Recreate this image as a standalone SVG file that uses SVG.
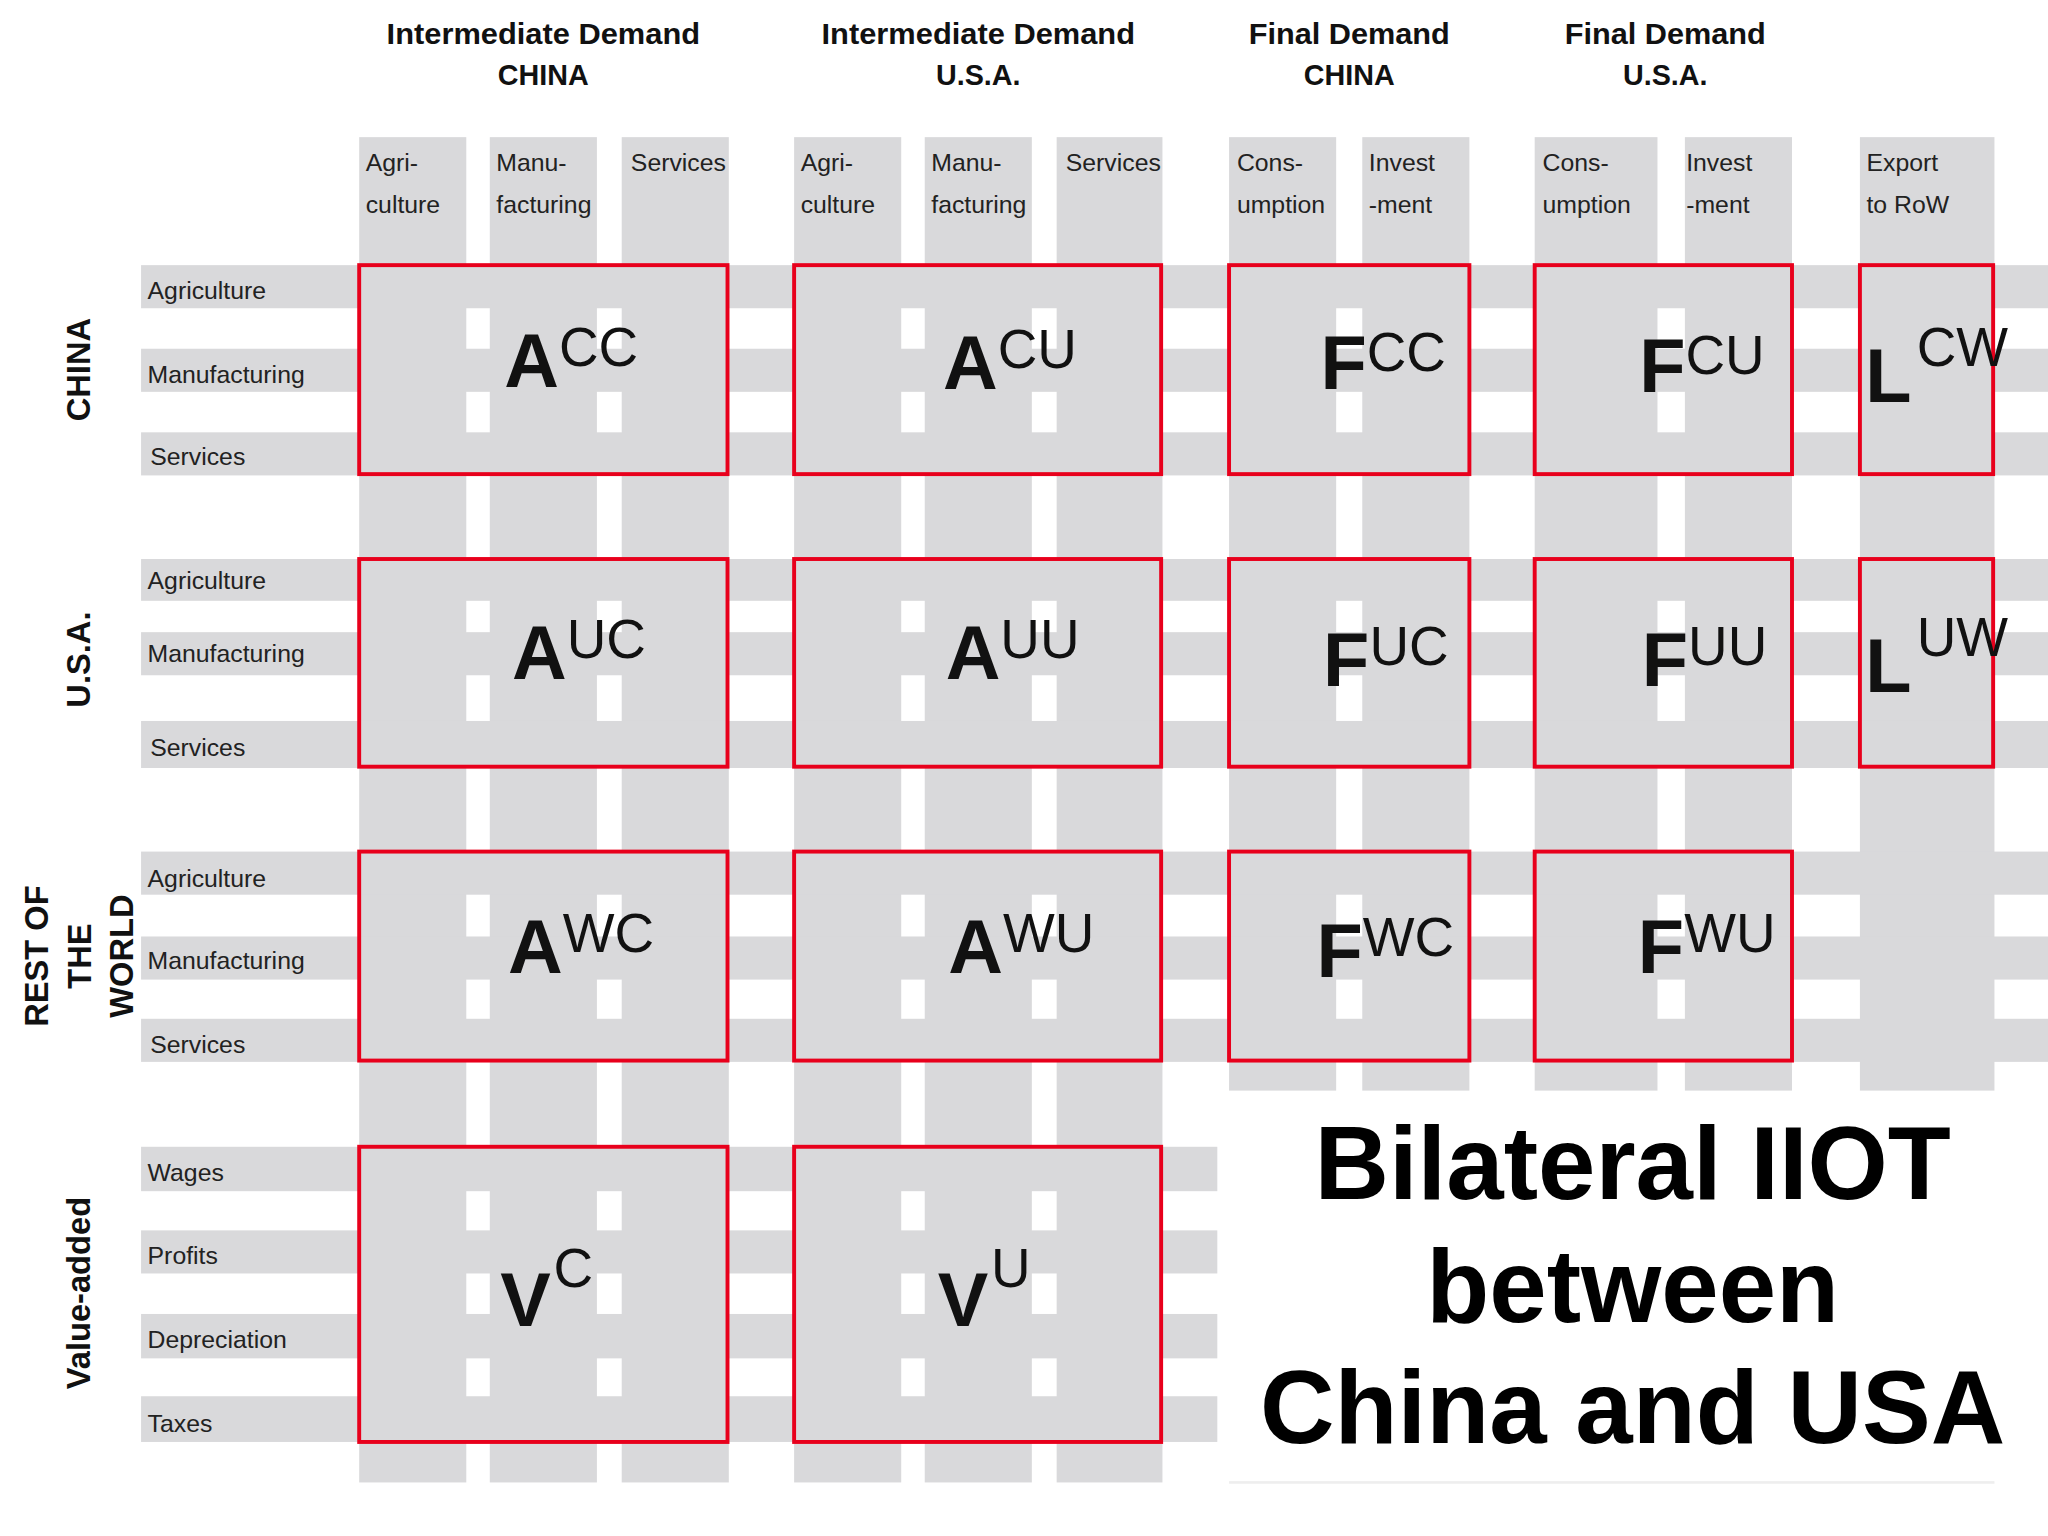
<svg xmlns="http://www.w3.org/2000/svg" width="2048" height="1536" viewBox="0 0 2048 1536">
<style>
.g{fill:#d9d9db}
.box{fill:none;stroke:#e8001c;stroke-width:3}
.hd{font-family:"Liberation Sans",Arial,sans-serif;font-weight:bold;font-size:22px;text-anchor:middle;fill:#111}
.cl{font-family:"Liberation Sans",Arial,sans-serif;font-size:19px;fill:#222}
.vl{font-family:"Liberation Sans",Arial,sans-serif;font-weight:bold;font-size:25px;text-anchor:middle;fill:#111}
.big{font-family:"Liberation Sans",Arial,sans-serif;font-weight:bold;font-size:58px;fill:#111}
.sup{font-weight:normal;font-size:42px}
.ttl{font-family:"Liberation Sans",Arial,sans-serif;font-weight:bold;font-size:79px;text-anchor:middle;fill:#000}
</style>
<rect width="2048" height="1536" fill="#fff"/>
<g transform="scale(1.30612)">
<g id="strips">
<rect class="g" x="275" y="105" width="82" height="1030"/>
<rect class="g" x="375" y="105" width="82" height="1030"/>
<rect class="g" x="476" y="105" width="82" height="1030"/>
<rect class="g" x="608" y="105" width="82" height="1030"/>
<rect class="g" x="708" y="105" width="82" height="1030"/>
<rect class="g" x="809" y="105" width="81" height="1030"/>
<rect class="g" x="941" y="105" width="82" height="730"/>
<rect class="g" x="1043" y="105" width="82" height="730"/>
<rect class="g" x="1175" y="105" width="94" height="730"/>
<rect class="g" x="1290" y="105" width="82" height="730"/>
<rect class="g" x="1424" y="105" width="103" height="730"/>
<rect class="g" x="108" y="203" width="1460" height="33"/>
<rect class="g" x="108" y="267" width="1460" height="33"/>
<rect class="g" x="108" y="331" width="1460" height="33"/>
<rect class="g" x="108" y="428" width="1460" height="32"/>
<rect class="g" x="108" y="484" width="1460" height="33"/>
<rect class="g" x="108" y="552" width="1460" height="36"/>
<rect class="g" x="108" y="652" width="1460" height="33"/>
<rect class="g" x="108" y="717" width="1460" height="33"/>
<rect class="g" x="108" y="780" width="1460" height="33"/>
<rect class="g" x="108" y="878" width="824" height="34"/>
<rect class="g" x="108" y="942" width="824" height="33"/>
<rect class="g" x="108" y="1006" width="824" height="34"/>
<rect class="g" x="108" y="1069" width="824" height="35"/>
<rect x="941" y="1134" width="586" height="2" fill="#eeeeee"/>
</g>
<g id="headers">
<text class="hd" x="416" y="34" textLength="240" lengthAdjust="spacingAndGlyphs">Intermediate Demand</text>
<text class="hd" x="416" y="65">CHINA</text>
<text class="hd" x="749" y="34" textLength="240" lengthAdjust="spacingAndGlyphs">Intermediate Demand</text>
<text class="hd" x="749" y="65">U.S.A.</text>
<text class="hd" x="1033" y="34" textLength="154" lengthAdjust="spacingAndGlyphs">Final Demand</text>
<text class="hd" x="1033" y="65">CHINA</text>
<text class="hd" x="1275" y="34" textLength="154" lengthAdjust="spacingAndGlyphs">Final Demand</text>
<text class="hd" x="1275" y="65">U.S.A.</text>
</g>
<g id="col-labels">
<text class="cl" x="280" y="131">Agri-</text><text class="cl" x="280" y="163">culture</text>
<text class="cl" x="380" y="131">Manu-</text><text class="cl" x="380" y="163">facturing</text>
<text class="cl" x="483" y="131">Services</text>
<text class="cl" x="613" y="131">Agri-</text><text class="cl" x="613" y="163">culture</text>
<text class="cl" x="713" y="131">Manu-</text><text class="cl" x="713" y="163">facturing</text>
<text class="cl" x="816" y="131">Services</text>
<text class="cl" x="947" y="131">Cons-</text><text class="cl" x="947" y="163">umption</text>
<text class="cl" x="1048" y="131">Invest</text><text class="cl" x="1048" y="163">-ment</text>
<text class="cl" x="1181" y="131">Cons-</text><text class="cl" x="1181" y="163">umption</text>
<text class="cl" x="1291" y="131">Invest</text><text class="cl" x="1291" y="163">-ment</text>
<text class="cl" x="1429" y="131">Export</text><text class="cl" x="1429" y="163">to RoW</text>
</g>
<g id="row-labels">
<text class="cl" x="113" y="229">Agriculture</text>
<text class="cl" x="113" y="293">Manufacturing</text>
<text class="cl" x="115" y="356">Services</text>
<text class="cl" x="113" y="451">Agriculture</text>
<text class="cl" x="113" y="507">Manufacturing</text>
<text class="cl" x="115" y="579">Services</text>
<text class="cl" x="113" y="679">Agriculture</text>
<text class="cl" x="113" y="742">Manufacturing</text>
<text class="cl" x="115" y="806">Services</text>
<text class="cl" x="113" y="904">Wages</text>
<text class="cl" x="113" y="968">Profits</text>
<text class="cl" x="113" y="1032">Depreciation</text>
<text class="cl" x="113" y="1096">Taxes</text>
</g>
<g id="side-labels">
<text class="vl" transform="translate(69,283) rotate(-90)">CHINA</text>
<text class="vl" transform="translate(69,505) rotate(-90)">U.S.A.</text>
<text class="vl" transform="translate(37,732) rotate(-90)">REST OF</text>
<text class="vl" transform="translate(70,732) rotate(-90)">THE</text>
<text class="vl" transform="translate(102,732) rotate(-90)">WORLD</text>
<text class="vl" transform="translate(69,990) rotate(-90)">Value-added</text>
</g>
<g id="ACC"><rect class="box" x="275" y="203" width="282" height="160"/><text class="big" x="386" y="296">A<tspan class="sup" dy="-16">CC</tspan></text></g>
<g id="ACU"><rect class="box" x="608" y="203" width="281" height="160"/><text class="big" x="722" y="298">A<tspan class="sup" dy="-16">CU</tspan></text></g>
<g id="FCC"><rect class="box" x="941" y="203" width="184" height="160"/><text class="big" x="1011" y="298">F<tspan class="sup" dy="-14">CC</tspan></text></g>
<g id="FCU"><rect class="box" x="1175" y="203" width="197" height="160"/><text class="big" x="1255" y="300">F<tspan class="sup" dy="-14">CU</tspan></text></g>
<g id="LCW"><rect class="box" x="1424" y="203" width="102" height="160"/><text class="big" x="1428" y="308">L<tspan class="sup" dx="4" dy="-28">CW</tspan></text></g>
<g id="AUC"><rect class="box" x="275" y="428" width="282" height="159"/><text class="big" x="392" y="520">A<tspan class="sup" dy="-16">UC</tspan></text></g>
<g id="AUU"><rect class="box" x="608" y="428" width="281" height="159"/><text class="big" x="724" y="520">A<tspan class="sup" dy="-16">UU</tspan></text></g>
<g id="FUC"><rect class="box" x="941" y="428" width="184" height="159"/><text class="big" x="1013" y="525">F<tspan class="sup" dy="-16">UC</tspan></text></g>
<g id="FUU"><rect class="box" x="1175" y="428" width="197" height="159"/><text class="big" x="1257" y="525">F<tspan class="sup" dy="-16">UU</tspan></text></g>
<g id="LUW"><rect class="box" x="1424" y="428" width="102" height="159"/><text class="big" x="1428" y="530">L<tspan class="sup" dx="4" dy="-28">UW</tspan></text></g>
<g id="AWC"><rect class="box" x="275" y="652" width="282" height="160"/><text class="big" x="389" y="745">A<tspan class="sup" dy="-16">WC</tspan></text></g>
<g id="AWU"><rect class="box" x="608" y="652" width="281" height="160"/><text class="big" x="726" y="745">A<tspan class="sup" dy="-16">WU</tspan></text></g>
<g id="FWC"><rect class="box" x="941" y="652" width="184" height="160"/><text class="big" x="1008" y="748">F<tspan class="sup" dy="-16">WC</tspan></text></g>
<g id="FWU"><rect class="box" x="1175" y="652" width="197" height="160"/><text class="big" x="1254" y="745">F<tspan class="sup" dy="-16">WU</tspan></text></g>
<g id="VC"><rect class="box" x="275" y="878" width="282" height="226"/><text class="big" x="383" y="1015" font-weight="normal">V<tspan class="sup" font-size="36" dx="2" dy="-30">C</tspan></text></g>
<g id="VU"><rect class="box" x="608" y="878" width="281" height="226"/><text class="big" x="718" y="1015" font-weight="normal">V<tspan class="sup" font-size="36" dx="2" dy="-30">U</tspan></text></g>
<g id="title">
<text class="ttl" x="1250" y="918">Bilateral IIOT</text>
<text class="ttl" x="1250" y="1012">between</text>
<text class="ttl" x="1250" y="1105">China and USA</text>
</g>
<g id="connectors"/>
</g>
</svg>
